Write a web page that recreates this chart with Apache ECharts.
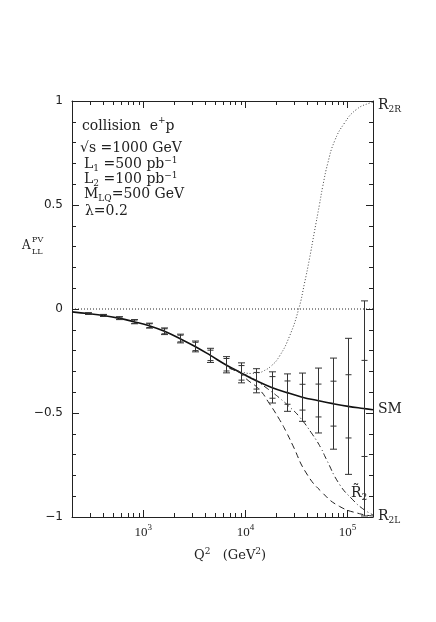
<!DOCTYPE html>
<html>
<head>
<meta charset="utf-8">
<script src="https://cdn.jsdelivr.net/npm/echarts@6/dist/echarts.min.js"></script>
<style>
html, body { margin: 0; padding: 0; background: #fff; }
#main { width: 436px; height: 622px; }
</style>
</head>
<body>
<div id="main"></div>
<script>
// Q^2 (GeV^2) of the simulated points and their SM asymmetry
var q2Points = [287, 405, 572, 808, 1141, 1612, 2277, 3216, 4543, 6417, 9064, 12800, 18090, 25550, 36090, 50980, 72010, 101700, 143700];
var smAtPoints = [-0.022, -0.031, -0.044, -0.061, -0.080, -0.107, -0.142, -0.180, -0.223, -0.268, -0.307, -0.345, -0.377, -0.402, -0.424, -0.440, -0.455, -0.468, -0.478];
// error for L1 = 500 pb^-1 (inner caps) and L2 = 100 pb^-1 (outer caps)
var errL1 = [0.003, 0.004, 0.005, 0.008, 0.009, 0.012, 0.016, 0.020, 0.025, 0.030, 0.035, 0.040, 0.052, 0.056, 0.062, 0.079, 0.108, 0.152, 0.231];
var errL2 = [0.004, 0.005, 0.007, 0.010, 0.012, 0.016, 0.021, 0.026, 0.034, 0.039, 0.048, 0.058, 0.075, 0.090, 0.116, 0.156, 0.219, 0.327, 0.517];

// SM curve (solid)
var smQ2 = [200, 287, 405, 572, 808, 1141, 1612, 2277, 3216, 4543, 6417, 9064, 12800, 18090, 25550, 36090, 50980, 72010, 101700, 143700, 178000];
var smA = [-0.014, -0.022, -0.031, -0.044, -0.061, -0.080, -0.107, -0.142, -0.180, -0.223, -0.268, -0.307, -0.345, -0.377, -0.402, -0.424, -0.440, -0.455, -0.468, -0.478, -0.484];

// R2L leptoquark (dashed)
var r2lQ2 = [7000, 8710, 10300, 13700, 17200, 21500, 25100, 29100, 39400, 57300, 83600, 131000, 178000];
var r2lA = [-0.285, -0.305, -0.338, -0.387, -0.455, -0.530, -0.590, -0.655, -0.788, -0.885, -0.949, -0.984, -0.995];

// R2 tilde leptoquark (dash-dot)
var r2tQ2 = [7000, 9080, 11500, 13700, 17200, 21500, 27000, 33800, 45700, 55200, 61800, 83600, 112700, 141000, 178000];
var r2tA = [-0.285, -0.308, -0.330, -0.355, -0.390, -0.427, -0.470, -0.518, -0.605, -0.670, -0.720, -0.843, -0.917, -0.960, -0.990];

// R2R leptoquark (dotted)
var r2rQ2 = [7000, 9080, 11500, 13700, 14800, 17800, 21500, 27000, 33300, 37800, 42400, 47400, 53100, 57300, 64100, 74600, 93500, 121600, 164400, 178000];
var r2rA = [-0.283, -0.302, -0.310, -0.306, -0.300, -0.275, -0.228, -0.132, 0.0, 0.120, 0.240, 0.370, 0.500, 0.590, 0.700, 0.806, 0.894, 0.958, 0.990, 0.993];

var xMin = 200, xMax = 178000;

function pairs(xs, ys) {
    return xs.map(function (x, i) { return [x, ys[i]]; });
}

// log axis ticks: decades long, 2..9 short
var tickRows = [];
[100, 1000, 10000, 100000].forEach(function (d) {
    for (var m = 1; m <= 9; m++) {
        var v = m * d;
        if (v >= xMin && v <= xMax) tickRows.push([v, m === 1 ? 7 : 4]);
    }
});

var errRows = q2Points.map(function (q, i) {
    var c = smAtPoints[i];
    return [q, c - errL2[i], c + errL2[i], c - errL1[i], c + errL1[i]];
});

var ink = '#222';
var serif = 'DejaVu Serif';

function seg(x1, y1, x2, y2, st) {
    return { type: 'line', shape: { x1: x1, y1: y1, x2: x2, y2: y2 }, style: st };
}

function renderErrorBar(params, api) {
    var q = api.value(0);
    var lo2 = api.coord([q, api.value(1)]);
    var hi2 = api.coord([q, api.value(2)]);
    var lo1 = api.coord([q, api.value(3)]);
    var hi1 = api.coord([q, api.value(4)]);
    var x = Math.round(lo2[0]) + 0.5;
    var st = { stroke: '#333', lineWidth: 1 };
    return {
        type: 'group',
        children: [
            seg(x, lo2[1], x, hi2[1], st),
            seg(x - 3.5, lo2[1], x + 3.5, lo2[1], st),
            seg(x - 3.5, hi2[1], x + 3.5, hi2[1], st),
            seg(x - 3, lo1[1], x + 3, lo1[1], st),
            seg(x - 3, hi1[1], x + 3, hi1[1], st)
        ]
    };
}

function renderXTick(params, api) {
    var v = api.value(0);
    var len = api.value(1);
    var b = api.coord([v, -1]);
    var t = api.coord([v, 1]);
    var x = Math.round(b[0]) + 0.5;
    var st = { stroke: ink, lineWidth: 1 };
    return {
        type: 'group',
        children: [seg(x, b[1], x, b[1] - len, st), seg(x, t[1], x, t[1] + len, st)]
    };
}

// rich text: token "height" sets where a top/bottom aligned token sits in the line
var richText = {
    m: { fontSize: 14, fontFamily: serif, fill: ink },
    q: { fontSize: 13, fontFamily: serif, fill: ink },
    sub: { fontSize: 9, fontFamily: serif, fill: ink, verticalAlign: 'bottom', height: 4 },
    sup: { fontSize: 9, fontFamily: serif, fill: ink, verticalAlign: 'top', height: 8 },
    supHi: { fontSize: 9, fontFamily: serif, fill: ink, verticalAlign: 'top', height: 4 },
    supQ: { fontSize: 9, fontFamily: serif, fill: ink, verticalAlign: 'top', height: 5 }
};

function label(x, y, text) {
    return {
        type: 'text', x: x, y: y, silent: true,
        style: {
            text: text, rich: richText, fill: ink,
            font: '14px "' + serif + '"',
            align: 'left', verticalAlign: 'middle'
        }
    };
}

function plain(x, y, text, size) {
    return {
        type: 'text', x: x, y: y, silent: true,
        style: { text: text, font: size + 'px "' + serif + '"', fill: ink, verticalAlign: 'middle' }
    };
}

var chart = echarts.init(document.getElementById('main'));
var frameAxis = { show: true, onZero: false, lineStyle: { color: ink, width: 1 } };

var option = {
    animation: false,
    backgroundColor: '#fff',
    grid: { left: 72, top: 101, width: 301, height: 416, containLabel: false },
    xAxis: [{
        type: 'log', logBase: 10, min: xMin, max: xMax, position: 'bottom',
        axisLine: frameAxis, axisTick: { show: false }, splitLine: { show: false },
        axisLabel: {
            margin: 9,
            formatter: function (v) {
                var e = Math.round(Math.log10(v));
                if (Math.abs(Math.log10(v) - e) > 1e-6) return '';
                return '{a|10}{b|' + e + '}';
            },
            rich: {
                a: { fontSize: 13, fontFamily: 'Liberation Serif', color: ink },
                b: { fontSize: 9, fontFamily: 'Liberation Serif', color: ink, verticalAlign: 'top', height: 3 }
            }
        }
    }, {
        type: 'log', logBase: 10, min: xMin, max: xMax, position: 'top',
        axisLine: frameAxis, axisTick: { show: false }, splitLine: { show: false },
        axisLabel: { show: false }
    }],
    yAxis: [{
        type: 'value', min: -1, max: 1, interval: 0.5, position: 'left',
        axisLine: frameAxis,
        axisTick: { inside: true, length: 7, lineStyle: { color: ink } },
        minorTick: { show: true, splitNumber: 5, length: 4, lineStyle: { color: ink } },
        splitLine: { show: false },
        axisLabel: {
            margin: 9, color: ink, fontSize: 12, fontFamily: 'DejaVu Sans',
            formatter: function (v) { return String(v).replace('-', '\u2212'); }
        }
    }, {
        type: 'value', min: -1, max: 1, interval: 0.5, position: 'right',
        axisLine: frameAxis,
        axisTick: { inside: true, length: 7, lineStyle: { color: ink } },
        minorTick: { show: true, splitNumber: 5, length: 4, lineStyle: { color: ink } },
        splitLine: { show: false },
        axisLabel: { show: false }
    }],
    series: [
        {
            name: 'zero', type: 'line', data: [[xMin, 0], [xMax, 0]], symbol: 'none',
            lineStyle: { color: ink, width: 1, type: [1, 2] }
        },
        {
            name: 'SM', type: 'line', data: pairs(smQ2, smA), symbol: 'none',
            smooth: 0.4, lineStyle: { color: '#111', width: 1.6 }
        },
        {
            name: 'R2L', type: 'line', data: pairs(r2lQ2, r2lA), symbol: 'none',
            smooth: 0.5, lineStyle: { color: ink, width: 1, type: [6, 4] }
        },
        {
            name: 'R2tilde', type: 'line', data: pairs(r2tQ2, r2tA), symbol: 'none',
            smooth: 0.5, lineStyle: { color: ink, width: 1, type: [6, 3, 1, 3] }
        },
        {
            name: 'R2R', type: 'line', data: pairs(r2rQ2, r2rA), symbol: 'none',
            smooth: 0.5, lineStyle: { color: '#444', width: 1, type: [1, 2] }
        },
        {
            name: 'errors', type: 'custom', renderItem: renderErrorBar, data: errRows,
            encode: { x: 0, y: [1, 2] }, z: 5
        },
        {
            name: 'ticks', type: 'custom', renderItem: renderXTick, data: tickRows,
            encode: { x: 0 }, z: 6
        }
    ],
    graphic: [
        label(82, 126, '{m|collision  e}{supHi|+}{m|p}'),
        label(80, 148, '{m|\u221As =1000 GeV}'),
        label(84, 164, '{m|L}{sub|1}{m| =500 pb}{sup|\u22121}'),
        label(84, 179, '{m|L}{sub|2}{m| =100 pb}{sup|\u22121}'),
        label(84, 194, '{m|M}{sub|LQ}{m|=500 GeV}'),
        label(85, 211, '{m|\u03BB=0.2}'),
        // y axis title
        plain(22, 246, 'A', 12),
        plain(32, 240, 'PV', 8),
        plain(32, 252, 'LL', 8),
        // x axis title
        label(194, 556, '{q|Q}{supQ|2}{q|   (GeV}{supQ|2}{q|)}'),
        // curve names at the right
        label(378, 105, '{m|R}{sub|2R}'),
        label(378, 409, '{m|SM}'),
        label(378, 516, '{m|R}{sub|2L}'),
        label(351, 493, '{m|R\u0303}{sub|2}')
    ]
};

chart.setOption(option);
</script>
</body>
</html>
